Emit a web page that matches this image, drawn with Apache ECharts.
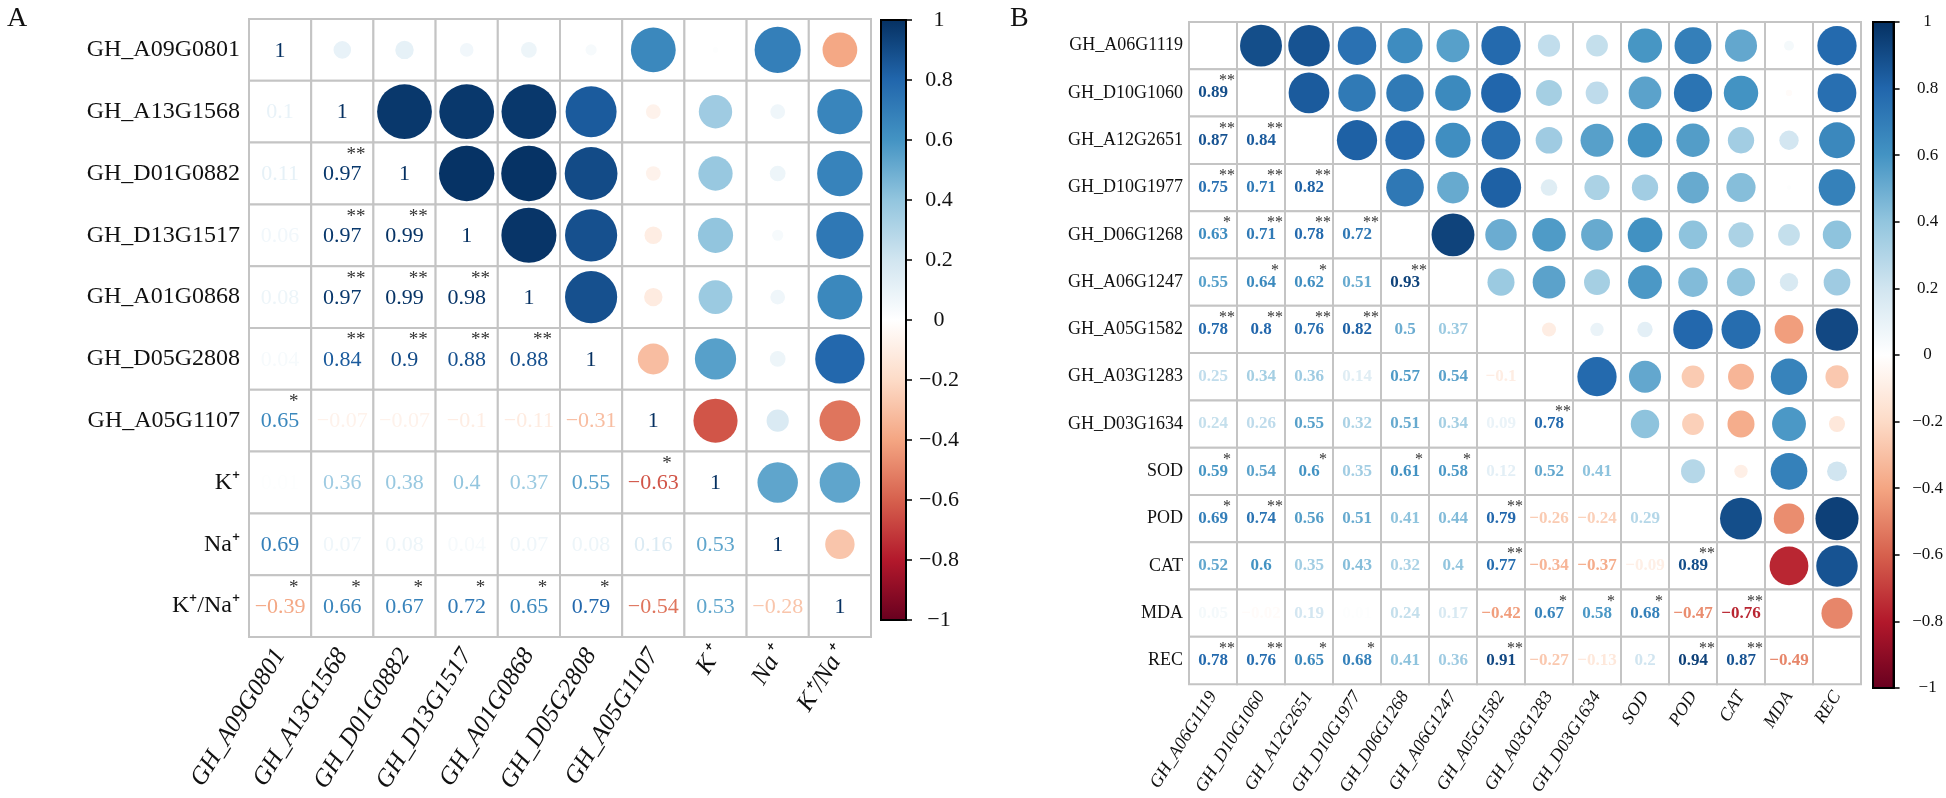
<!DOCTYPE html>
<html>
<head>
<meta charset="utf-8">
<script src="https://cdn.jsdelivr.net/npm/echarts@6/dist/echarts.min.js"></script>
<style>
  html, body { margin: 0; padding: 0; background: #fff; }
  #main { width: 1946px; height: 798px; }
</style>
</head>
<body>
<div id="main"></div>
<script>
var SERIF = "'Liberation Serif', 'Times New Roman', serif";

// corrplot RdBu palette, -1 .. 1
var RDBU = ['#67001F', '#B2182B', '#D6604D', '#F4A582', '#FDDBC7', '#FFFFFF',
            '#D1E5F0', '#92C5DE', '#4393C3', '#2166AC', '#053061'];

// ---- panel A ----
var labelsA = ['GH_A09G0801', 'GH_A13G1568', 'GH_D01G0882', 'GH_D13G1517', 'GH_A01G0868',
               'GH_D05G2808', 'GH_A05G1107', 'K\u207A', 'Na\u207A', 'K\u207A/Na\u207A'];
// lower triangle, row i+1 against columns 0..i
var lowerA = [
  [0.1],
  [0.11, 0.97],
  [0.06, 0.97, 0.99],
  [0.08, 0.97, 0.99, 0.98],
  [0.04, 0.84, 0.9, 0.88, 0.88],
  [0.65, -0.07, -0.07, -0.1, -0.11, -0.31],
  [0.01, 0.36, 0.38, 0.4, 0.37, 0.55, -0.63],
  [0.69, 0.07, 0.08, 0.04, 0.07, 0.08, 0.16, 0.53],
  [-0.39, 0.66, 0.67, 0.72, 0.65, 0.79, -0.54, 0.53, -0.28]
];
// significance: 0 none, 1 *, 2 **
var sigA = [
  [0],
  [0, 2],
  [0, 2, 2],
  [0, 2, 2, 2],
  [0, 2, 2, 2, 2],
  [1, 0, 0, 0, 0, 0],
  [0, 0, 0, 0, 0, 0, 1],
  [0, 0, 0, 0, 0, 0, 0, 0],
  [1, 1, 1, 1, 1, 1, 0, 0, 0]
];

// ---- panel B ----
var labelsB = ['GH_A06G1119', 'GH_D10G1060', 'GH_A12G2651', 'GH_D10G1977', 'GH_D06G1268',
               'GH_A06G1247', 'GH_A05G1582', 'GH_A03G1283', 'GH_D03G1634',
               'SOD', 'POD', 'CAT', 'MDA', 'REC'];
var lowerB = [
  [0.89],
  [0.87, 0.84],
  [0.75, 0.71, 0.82],
  [0.63, 0.71, 0.78, 0.72],
  [0.55, 0.64, 0.62, 0.51, 0.93],
  [0.78, 0.8, 0.76, 0.82, 0.5, 0.37],
  [0.25, 0.34, 0.36, 0.14, 0.57, 0.54, -0.1],
  [0.24, 0.26, 0.55, 0.32, 0.51, 0.34, 0.09, 0.78],
  [0.59, 0.54, 0.6, 0.35, 0.61, 0.58, 0.12, 0.52, 0.41],
  [0.69, 0.74, 0.56, 0.51, 0.41, 0.44, 0.79, -0.26, -0.24, 0.29],
  [0.52, 0.6, 0.35, 0.43, 0.32, 0.4, 0.77, -0.34, -0.37, -0.09, 0.89],
  [0.05, -0.02, 0.19, 0.01, 0.24, 0.17, -0.42, 0.67, 0.58, 0.68, -0.47, -0.76],
  [0.78, 0.76, 0.65, 0.68, 0.41, 0.36, 0.91, -0.27, -0.13, 0.2, 0.94, 0.87, -0.49]
];
var sigB = [
  [2],
  [2, 2],
  [2, 2, 2],
  [1, 2, 2, 2],
  [0, 1, 1, 0, 2],
  [2, 2, 2, 2, 0, 0],
  [0, 0, 0, 0, 0, 0, 0],
  [0, 0, 0, 0, 0, 0, 0, 2],
  [1, 0, 1, 0, 1, 1, 0, 0, 0],
  [1, 2, 0, 0, 0, 0, 2, 0, 0, 0],
  [0, 0, 0, 0, 0, 0, 2, 0, 0, 0, 2],
  [0, 0, 0, 0, 0, 0, 0, 1, 1, 1, 0, 2],
  [2, 2, 1, 1, 0, 0, 2, 0, 0, 0, 2, 2, 0]
];

var colorbarTicks = { min: -1, max: 1, interval: 0.2 };

// [col, row, r, sig, kind]  kind: 0 lower (text), 1 diagonal, 2 upper (circle)
function buildCells(lower, sig) {
  var n = lower.length + 1, out = [];
  for (var i = 0; i < n; i++) {
    for (var j = 0; j < n; j++) {
      if (i === j) out.push([j, i, 1, 0, 1]);
      else if (j < i) out.push([j, i, lower[i - 1][j], sig[i - 1][j], 0]);
      else out.push([j, i, lower[j - 1][i], 0, 2]);
    }
  }
  return out;
}

function fmt(v) {
  return String(v).replace('-', '\u2212');
}

function makeRender(o) {
  return function (params, api) {
    var p = api.coord([api.value(0), api.value(1)]);
    var s = api.size([1, 1]);
    var w = s[0], h = s[1];
    var v = api.value(2), sg = api.value(3), kind = api.value(4);
    var color = api.visual('color');
    var kids = [{
      type: 'rect',
      shape: { x: p[0] - w / 2, y: p[1] - h / 2, width: w, height: h },
      style: { fill: '#fff', stroke: '#c4c4c4', lineWidth: 2 }
    }];
    if (kind === 2) {
      kids.push({
        type: 'circle',
        shape: { cx: p[0], cy: p[1], r: o.rScale * Math.min(w, h) * Math.sqrt(Math.abs(v)) },
        style: { fill: color }
      });
    } else if (kind === 0 || o.showDiag) {
      kids.push({
        type: 'text',
        x: p[0], y: p[1] + o.numDy,
        style: { text: fmt(v), fill: color, font: o.numFont,
                 align: 'center', verticalAlign: 'middle' }
      });
      if (sg > 0) {
        kids.push({
          type: 'text',
          x: p[0] + o.starDx * w, y: p[1] + o.starDy * h,
          style: { text: sg === 2 ? '**' : '*', fill: '#333', font: o.starFont,
                   align: 'center', verticalAlign: 'middle' }
        });
      }
    }
    return { type: 'group', children: kids };
  };
}

function colorbarRender(params, api) {
  var cs = params.coordSys;
  var stops = RDBU.slice().reverse().map(function (c, i) {
    return { offset: i / (RDBU.length - 1), color: c };
  });
  return {
    type: 'rect',
    shape: { x: cs.x, y: cs.y, width: cs.width, height: cs.height },
    style: { fill: new echarts.graphic.LinearGradient(0, 0, 0, 1, stops),
             stroke: '#000', lineWidth: 2 }
  };
}

function catAxis(idx, labels, isX, size) {
  var a = {
    type: 'category', gridIndex: idx, data: labels,
    axisLine: { show: false }, axisTick: { show: false }, splitLine: { show: false },
    axisLabel: { interval: 0, fontFamily: SERIF, fontSize: size, color: '#111' }
  };
  if (isX) {
    a.axisLabel.rotate = 58;
    a.axisLabel.fontStyle = 'italic';
    a.axisLabel.margin = size > 20 ? 14 : 9;
  } else {
    a.inverse = true;
    a.axisLabel.margin = size > 20 ? 9 : 6;
  }
  return a;
}

function cbarY(idx, size, margin) {
  return {
    type: 'value', gridIndex: idx, position: 'right',
    min: colorbarTicks.min, max: colorbarTicks.max, interval: colorbarTicks.interval,
    axisLine: { show: true, lineStyle: { color: '#000', width: 2 } },
    axisTick: { show: true, length: 6, lineStyle: { color: '#000', width: 1.5 } },
    splitLine: { show: false },
    axisLabel: {
      margin: margin, align: 'center', fontFamily: SERIF, fontSize: size, color: '#111',
      formatter: function (v) { return fmt(+v.toFixed(1)); }
    }
  };
}

var chart = echarts.init(document.getElementById('main'));
chart.setOption({
  backgroundColor: '#fff',
  animation: false,
  title: [
    { text: 'A', left: 2, top: 0, textStyle: { fontFamily: SERIF, fontSize: 28, fontWeight: 'normal', color: '#111' } },
    { text: 'B', left: 1005, top: 0, textStyle: { fontFamily: SERIF, fontSize: 28, fontWeight: 'normal', color: '#111' } }
  ],
  grid: [
    { left: 249, top: 19, width: 622, height: 618 },
    { left: 881, top: 20, width: 25, height: 600 },
    { left: 1189, top: 22, width: 672, height: 666 },
    { left: 1873, top: 22, width: 23, height: 666 }
  ],
  xAxis: [
    catAxis(0, labelsA, true, 25),
    { type: 'category', gridIndex: 1, data: ['c'], show: false },
    catAxis(2, labelsB, true, 18),
    { type: 'category', gridIndex: 3, data: ['c'], show: false }
  ],
  yAxis: [
    catAxis(0, labelsA, false, 24),
    cbarY(1, 22, 33),
    catAxis(2, labelsB, false, 18),
    cbarY(3, 17, 34)
  ],
  visualMap: {
    show: false, type: 'continuous', min: -1, max: 1, dimension: 2,
    seriesIndex: [0, 1], inRange: { color: RDBU }
  },
  series: [
    {
      type: 'custom', xAxisIndex: 0, yAxisIndex: 0,
      renderItem: makeRender({ rScale: 0.45, showDiag: true, numDy: 1,
        numFont: 'normal 22px ' + SERIF, starFont: 'normal 19px ' + SERIF,
        starDx: 0.22, starDy: -0.3 }),
      data: buildCells(lowerA, sigA)
    },
    {
      type: 'custom', xAxisIndex: 2, yAxisIndex: 2,
      renderItem: makeRender({ rScale: 0.47, showDiag: false, numDy: 0,
        numFont: 'bold 17px ' + SERIF, starFont: 'normal 16px ' + SERIF,
        starDx: 0.29, starDy: -0.25 }),
      data: buildCells(lowerB, sigB)
    },
    { type: 'custom', xAxisIndex: 1, yAxisIndex: 1, renderItem: colorbarRender, data: [[0, 0]] },
    { type: 'custom', xAxisIndex: 3, yAxisIndex: 3, renderItem: colorbarRender, data: [[0, 0]] }
  ]
});
</script>
</body>
</html>
